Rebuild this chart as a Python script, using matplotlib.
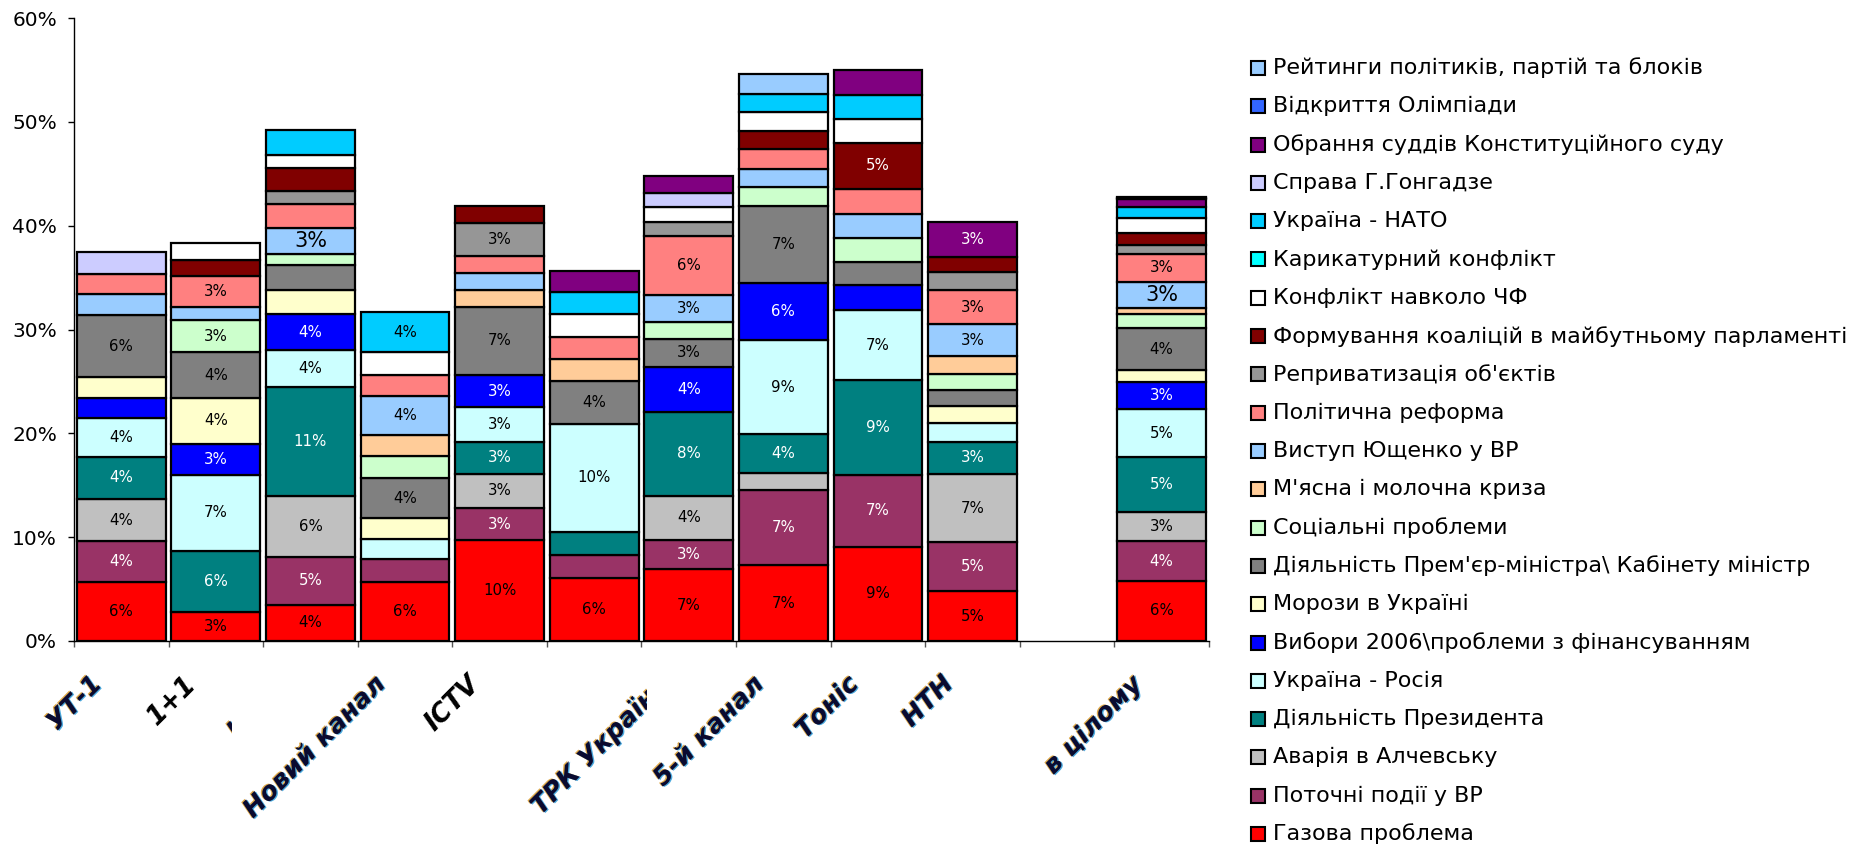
import numpy as np
import matplotlib
matplotlib.use('Agg')
import matplotlib.pyplot as plt
import matplotlib.patheffects as pe
from matplotlib.patches import Rectangle
from matplotlib.transforms import Bbox, TransformedBbox, ScaledTranslation, blended_transform_factory

plt.rcParams['font.family'] = ['DejaVu Sans']

# channels (one bar each); the 6th label is not readable in the original
channels = ['УТ-1', '1+1', 'Інтер', 'Новий канал', 'ICTV', '', 'ТРК Україна',
            '5-й канал', 'Тоніс', 'НТН', 'в цілому']

# share of news time per topic, % (bottom of the stack first)
gas =        [5.7, 2.8, 3.5, 5.7, 9.7, 6.1, 6.9, 7.3, 9.1, 4.8, 5.8]
vr_events =  [3.9, 0.0, 4.6, 2.2, 3.1, 2.2, 2.8, 7.2, 6.9, 4.7, 3.8]
alchevsk =   [4.1, 0.0, 5.9, 0.0, 3.3, 0.0, 4.3, 1.7, 0.0, 6.6, 2.8]
president =  [4.0, 5.9, 10.5, 0.0, 3.1, 2.2, 8.1, 3.7, 9.1, 3.1, 5.3]
ua_russia =  [3.8, 7.3, 3.5, 1.9, 3.3, 10.4, 0.0, 9.1, 6.8, 1.8, 4.6]
elections =  [1.9, 3.0, 3.5, 0.0, 3.1, 0.0, 4.3, 5.5, 2.4, 0.0, 2.6]
frost =      [2.0, 4.4, 2.3, 2.0, 0.0, 0.0, 0.0, 0.0, 0.0, 1.6, 1.2]
premier =    [6.0, 4.4, 2.4, 3.9, 6.6, 4.1, 2.7, 7.4, 2.2, 1.6, 4.0]
social =     [0.0, 3.1, 1.1, 2.1, 0.0, 0.0, 1.6, 1.8, 2.3, 1.5, 1.4]
meat_milk =  [0.0, 0.0, 0.0, 2.0, 1.6, 2.2, 0.0, 0.0, 0.0, 1.7, 0.6]
yush_speech = [2.0, 1.3, 2.5, 3.8, 1.6, 0.0, 2.6, 1.8, 2.3, 3.1, 2.5]
reform =     [1.9, 3.0, 2.3, 2.0, 1.7, 2.1, 5.7, 1.9, 2.4, 3.3, 2.7]
reprivat =   [0.0, 0.0, 1.2, 0.0, 3.2, 0.0, 1.4, 0.0, 0.0, 1.7, 0.8]
coalitions = [0.0, 1.5, 2.3, 0.0, 1.6, 0.0, 0.0, 1.7, 4.5, 1.5, 1.2]
black_sea =  [0.0, 1.6, 1.2, 2.2, 0.0, 2.2, 1.4, 1.8, 2.3, 0.0, 1.4]
cartoons =   [0.0, 0.0, 0.0, 0.0, 0.0, 0.0, 0.0, 0.0, 0.0, 0.0, 0.0]
ua_nato =    [0.0, 0.0, 2.4, 3.9, 0.0, 2.1, 0.0, 1.8, 2.3, 0.0, 1.1]
gongadze =   [2.2, 0.0, 0.0, 0.0, 0.0, 0.0, 1.3, 0.0, 0.0, 0.0, 0.0]
judges =     [0.0, 0.0, 0.0, 0.0, 0.0, 2.0, 1.7, 0.0, 2.4, 3.4, 0.8]
olympics =   [0.0, 0.0, 0.0, 0.0, 0.0, 0.0, 0.0, 0.0, 0.0, 0.0, 0.1]
ratings =    [0.0, 0.0, 0.0, 0.0, 0.0, 0.0, 0.0, 1.9, 0.0, 0.0, 0.1]

topics = [
    ('Газова проблема', gas, '#FF0000'),
    ('Поточні події у ВР', vr_events, '#993366'),
    ('Аварія в Алчевську', alchevsk, '#C0C0C0'),
    ('Діяльність Президента', president, '#008080'),
    ('Україна - Росія', ua_russia, '#CCFFFF'),
    ('Вибори 2006\\проблеми з фінансуванням', elections, '#0000FF'),
    ('Морози в Україні', frost, '#FFFFCC'),
    ("Діяльність Прем'єр-міністра\\ Кабінету міністр", premier, '#808080'),
    ('Соціальні проблеми', social, '#CCFFCC'),
    ("М'ясна і молочна криза", meat_milk, '#FFCC99'),
    ('Виступ Ющенко у ВР', yush_speech, '#99CCFF'),
    ('Політична реформа', reform, '#FF8080'),
    ("Реприватизація об'єктів", reprivat, '#969696'),
    ('Формування коаліцій в майбутньому парламенті', coalitions, '#800000'),
    ('Конфлікт навколо ЧФ', black_sea, '#FFFFFF'),
    ('Карикатурний конфлікт', cartoons, '#00FFFF'),
    ('Україна - НАТО', ua_nato, '#00CCFF'),
    ('Справа Г.Гонгадзе', gongadze, '#CCCCFF'),
    ('Обрання суддів Конституційного суду', judges, '#800080'),
    ('Відкриття Олімпіади', olympics, '#3366FF'),
    ('Рейтинги політиків, партій та блоків', ratings, '#99CCFF'),
]

# layout
W, H = 1861, 847
slots = [0, 1, 2, 3, 4, 5, 6, 7, 8, 9, 11]
dark_fills = {'#993366', '#008080', '#0000FF', '#800000', '#800080'}
big_labels = {('Виступ Ющенко у ВР', 'Інтер'), ('Виступ Ющенко у ВР', 'в цілому')}

fig = plt.figure(figsize=(W / 100, H / 100), dpi=100)
ax = fig.add_axes([74 / W, 1 - 641 / H, (1209 - 74) / W, (641 - 18) / H])

# stacked bars with value labels
bottom = np.zeros(len(channels))
for name, vals, color in topics:
    vals = np.array(vals, dtype=float)
    keep = vals > 0
    ax.bar(np.array(slots)[keep], vals[keep], bottom=bottom[keep], width=0.94,
           color=color, edgecolor='black', linewidth=1.6, zorder=2)
    for ch, x, v, b in zip(channels, slots, vals, bottom):
        if v >= 2.5:
            big = (name, ch) in big_labels
            ax.text(x, b + v / 2, f'{int(v + 0.5)}%', ha='center', va='center',
                    fontsize=15 if big else 10.8,
                    color='white' if color in dark_fills else 'black', zorder=3)
    bottom += vals

ax.set_xlim(-0.5, 11.5)
ax.set_ylim(0, 60)
ax.set_yticks(range(0, 61, 10))
ax.set_yticklabels([f'{v}%' for v in range(0, 61, 10)])
ax.tick_params(axis='y', length=4.3, width=1, pad=8, labelsize=14.5)
ax.set_xticks([])
ax.set_xticks(np.arange(-0.5, 12, 1), minor=True)
ax.tick_params(axis='x', which='minor', length=4.3, width=1, color='#555555')
for side in ('top', 'right'):
    ax.spines[side].set_visible(False)
ax.spines['left'].set_linewidth(1)
ax.spines['bottom'].set_linewidth(1)

# rotated channel labels (two of them are cut off in the original)
fringe = [pe.SimplePatchShadow(offset=(-1.0, 0.4), shadow_rgbFace='#d89a2a', alpha=0.85),
          pe.SimplePatchShadow(offset=(1.0, -0.4), shadow_rgbFace='#2a9ad8', alpha=0.85),
          pe.Normal()]
plain = {'1+1', 'ICTV'}
clip_right = {'Інтер': 232, 'ТРК Україна': 647}
lab_tr = blended_transform_factory(ax.transData, ax.transAxes) + \
    ScaledTranslation(-14 / 100, -30 / 100, fig.dpi_scale_trans)
for ch, x in zip(channels, slots):
    if not ch:
        continue
    t = fig.text(x, 0, ch, transform=lab_tr, rotation=45, ha='right', va='top',
                 fontsize=18.5, fontweight='bold', fontstyle='italic',
                 color='black' if ch in plain else '#0a0a30')
    if ch not in plain:
        t.set_path_effects(fringe)
    if ch in clip_right:
        box = TransformedBbox(Bbox.from_extents(0, 0, clip_right[ch] / W, 1), fig.transFigure)
        t.set_clip_box(box)
        t.set_clip_on(True)

# legend, top entry first
for i, (name, vals, color) in enumerate(reversed(topics)):
    yc = 68 + i * 38.3
    fig.add_artist(Rectangle((1251 / W, 1 - (yc + 7) / H), 14 / W, 14 / H,
                             transform=fig.transFigure, facecolor=color,
                             edgecolor='black', linewidth=1.5))
    fig.text(1273 / W, 1 - yc / H, name, ha='left', va='center', fontsize=16)

fig.savefig('out.png', dpi=100)
